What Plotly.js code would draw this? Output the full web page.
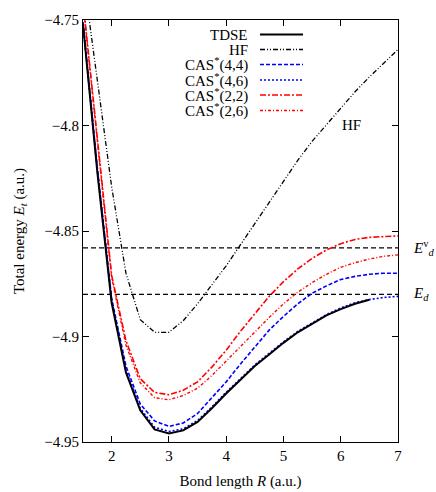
<!DOCTYPE html>
<html>
<head>
<meta charset="utf-8">
<script src="https://cdn.plot.ly/plotly-3.0.1.min.js"></script>
<style>html,body{margin:0;padding:0;background:#fff;}#chart{width:436px;height:492px;}</style>
</head>
<body>
<div id="chart"></div>
<script>
// Bond length R (a.u.)
const R_tdse = [1.5, 1.75, 2.0, 2.25, 2.5, 2.75, 3.0, 3.25, 3.5, 3.75, 4.0, 4.25, 4.5, 4.75, 5.0, 5.25, 5.5, 5.75, 6.0, 6.25, 6.5];
const R_all  = [1.5, 1.75, 2.0, 2.25, 2.5, 2.75, 3.0, 3.25, 3.5, 3.75, 4.0, 4.25, 4.5, 4.75, 5.0, 5.25, 5.5, 5.75, 6.0, 6.25, 6.5, 6.75, 7.0];
// Total energies (a.u.)
const E_tdse  = [-4.752, -4.822, -4.884, -4.917, -4.935, -4.944, -4.946, -4.9445, -4.9405, -4.934, -4.927, -4.9205, -4.914, -4.9085, -4.903, -4.898, -4.894, -4.890, -4.887, -4.8845, -4.8826];
const E_hf    = [-4.728, -4.778, -4.829, -4.870, -4.892, -4.898, -4.898, -4.8925, -4.8845, -4.8755, -4.8665, -4.8565, -4.8465, -4.836, -4.826, -4.8165, -4.8075, -4.7995, -4.7915, -4.784, -4.777, -4.7705, -4.764];
const E_cas44 = [-4.751, -4.820, -4.882, -4.914, -4.932, -4.940, -4.9426, -4.941, -4.9365, -4.929, -4.9215, -4.913, -4.905, -4.897, -4.8905, -4.8845, -4.8795, -4.876, -4.873, -4.8715, -4.8705, -4.870, -4.870];
const E_cas46 = [-4.752, -4.821, -4.883, -4.916, -4.934, -4.943, -4.945, -4.9438, -4.9398, -4.9334, -4.9264, -4.92, -4.9135, -4.908, -4.9025, -4.8976, -4.8935, -4.8896, -4.8865, -4.884, -4.8825, -4.8815, -4.881];
const E_cas22 = [-4.741, -4.806, -4.871, -4.902, -4.920, -4.9265, -4.9276, -4.9255, -4.9215, -4.9145, -4.9065, -4.8975, -4.889, -4.881, -4.874, -4.868, -4.863, -4.859, -4.856, -4.854, -4.853, -4.8525, -4.8523];
const E_cas26 = [-4.742, -4.807, -4.872, -4.904, -4.922, -4.929, -4.930, -4.928, -4.9245, -4.9185, -4.9115, -4.9045, -4.8975, -4.891, -4.8845, -4.879, -4.8745, -4.8705, -4.8672, -4.865, -4.8633, -4.862, -4.8613];
// Dissociation limits
const R_limits = [1.5, 7.0];
const E_dv = -4.858;
const E_d  = -4.880;
// Tick labels
const xTicks = [2, 3, 4, 5, 6, 7];
const yTicks = [-4.95, -4.9, -4.85, -4.8, -4.75];
const yTickText = ['\u22124.95', '\u22124.9', '\u22124.85', '\u22124.8', '\u22124.75'];
const seriesNames = ['TDSE', 'HF', 'CAS<sup>*</sup>(4,4)', 'CAS<sup>*</sup>(4,6)', 'CAS<sup>*</sup>(2,2)', 'CAS<sup>*</sup>(2,6)'];

const styles = [
  {color: '#000000', width: 2, dash: 'solid'},
  {color: '#000000', width: 1.3, dash: '5px,2px,1px,2px,1px,2px'},
  {color: '#0000ff', width: 1.6, dash: '4px,2px'},
  {color: '#0000ff', width: 1.6, dash: '2px,2px'},
  {color: '#ff0000', width: 1.6, dash: '6px,2px,2px,2px'},
  {color: '#ff0000', width: 1.4, dash: '3px,2px,1px,2px'}
];

const xs = [R_tdse, R_all, R_all, R_all, R_all, R_all];
const ys = [E_tdse, E_hf, E_cas44, E_cas46, E_cas22, E_cas26];

const traces = [];
[E_dv, E_d].forEach(v => {
  traces.push({x: R_limits, y: R_limits.map(() => v), mode: 'lines',
    line: {color: '#000', width: 1.3, dash: '5px,3px'}, showlegend: false, hoverinfo: 'skip'});
});
const order = [1, 4, 5, 2, 3, 0];
order.forEach(i => {
  traces.push({x: xs[i], y: ys[i], mode: 'lines', name: seriesNames[i],
    line: {color: styles[i].color, width: styles[i].width, dash: styles[i].dash}, showlegend: false});
});

const font = {family: 'Liberation Serif', size: 15, color: '#000'};

const L = 83, Rm = 38, T = 20, B = 50;
const plotW = 436 - L - Rm, plotH = 492 - T - B;
const legY = [34.5, 49.5, 64.5, 80, 95, 110.5];
const annotations = [];
const shapes = [];
seriesNames.forEach((n, i) => {
  const py = (plotH + T - legY[i]) / plotH;
  annotations.push({xref: 'paper', yref: 'paper', x: (250 - L) / plotW, y: py,
    text: n, showarrow: false, xanchor: 'right', yanchor: 'middle', font: font});
  shapes.push({type: 'line', xref: 'paper', yref: 'paper',
    x0: (260 - L) / plotW, x1: (303 - L) / plotW, y0: py, y1: py,
    line: {color: styles[i].color, width: styles[i].width, dash: styles[i].dash}});
});
annotations.push({x: 6.18, y: -4.7997, xref: 'x', yref: 'y', text: 'HF', showarrow: false, font: font});
annotations.push({xref: 'paper', yref: 'y', x: 1.04, y: E_dv, text: '<i>E</i><sup>v</sup><sub><i>d</i></sub>',
  showarrow: false, xanchor: 'left', yanchor: 'middle', font: font});
annotations.push({xref: 'paper', yref: 'y', x: 1.04, y: E_d, text: '<i>E</i><sub><i>d</i></sub>',
  showarrow: false, xanchor: 'left', yanchor: 'middle', font: font});

const layout = {
  width: 436, height: 492,
  margin: {l: L, r: Rm, t: T, b: B},
  paper_bgcolor: '#fff', plot_bgcolor: '#fff',
  font: font,
  showlegend: false,
  xaxis: {range: [1.5, 7], tickvals: xTicks, ticks: 'inside', ticklen: 6, tickcolor: '#000',
    showline: true, mirror: 'ticks', linecolor: '#000', linewidth: 1, showgrid: false, zeroline: false,
    tickfont: font,
    title: {text: 'Bond length <i>R</i> (a.u.)', font: font, standoff: 12}},
  yaxis: {range: [-4.95, -4.75], tickvals: yTicks, ticktext: yTickText, ticks: 'inside', ticklen: 6, tickcolor: '#000',
    showline: true, mirror: 'ticks', linecolor: '#000', linewidth: 1, showgrid: false, zeroline: false,
    tickfont: font,
    title: {text: 'Total energy <i>E<sub>t</sub></i> (a.u.)', font: font, standoff: 16}},
  annotations: annotations,
  shapes: shapes
};

Plotly.newPlot('chart', traces, layout, {staticPlot: true, displayModeBar: false});
</script>
</body>
</html>
